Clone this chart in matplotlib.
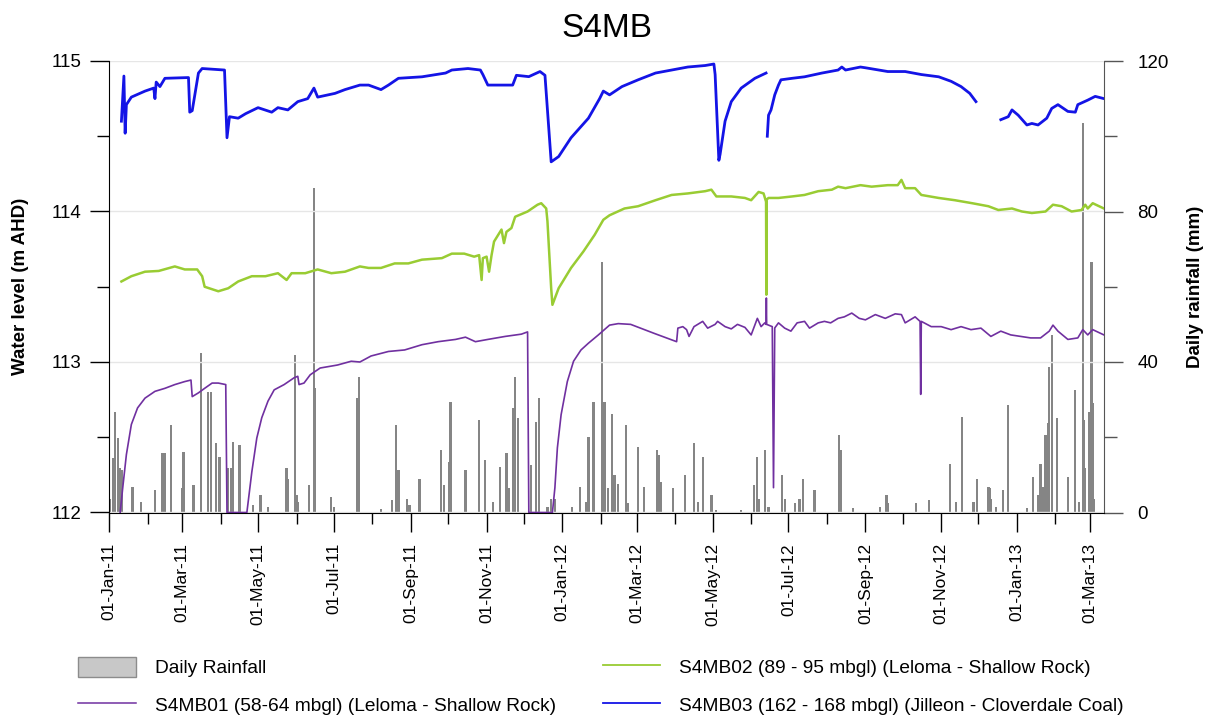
import matplotlib
matplotlib.use("Agg")
import matplotlib.pyplot as plt
import matplotlib.dates as mdates
from matplotlib.ticker import MultipleLocator, FixedLocator
from matplotlib.patches import Patch
from matplotlib.lines import Line2D
import numpy as np
import pandas as pd

plt.rcParams['font.family'] = ['Liberation Sans', 'DejaVu Sans']

# S4MB03 (162 - 168 mbgl), nan marks logger gaps
s4mb03_dates = [
    "2011-01-11", "2011-01-13", "2011-01-14", "2011-01-15", "2011-01-19", "2011-01-30",
    "2011-02-06", "2011-02-07", "2011-02-08", "2011-02-11", "2011-02-15", "2011-03-06",
    "2011-03-07", "2011-03-09", "2011-03-14", "2011-03-17", "2011-04-04", "2011-04-06",
    "2011-04-08", "2011-04-15", "2011-04-21", "2011-05-01", "2011-05-12", "2011-05-17",
    "2011-05-25", "2011-06-02", "2011-06-10", "2011-06-15", "2011-06-18", "2011-07-02",
    "2011-07-10", "2011-07-22", "2011-07-29", "2011-08-08", "2011-08-14", "2011-08-22",
    "2011-09-10", "2011-09-29", "2011-10-04", "2011-10-17", "2011-10-27", "2011-10-29",
    "2011-11-02", "2011-11-16", "2011-11-22", "2011-11-25", "2011-12-05", "2011-12-14",
    "2011-12-18", "2011-12-23", "2011-12-29", "2012-01-08", "2012-01-22", "2012-01-31",
    "2012-02-03", "2012-02-08", "2012-02-18", "2012-03-02", "2012-03-16", "2012-03-29",
    "2012-04-11", "2012-04-25", "2012-05-02", "2012-05-03", "2012-05-06", "2012-05-07",
    "2012-05-11", "2012-05-16", "2012-05-24", "2012-06-04", "2012-06-13", "2012-06-13 12:00",
    "2012-06-14", "2012-06-15", "2012-06-17", "2012-06-20", "2012-06-23", "2012-06-25",
    "2012-07-04", "2012-07-14", "2012-07-28", "2012-08-10", "2012-08-13", "2012-08-16",
    "2012-08-28", "2012-09-01", "2012-09-19", "2012-10-03", "2012-10-16", "2012-10-30",
    "2012-11-09", "2012-11-17", "2012-11-24", "2012-11-29", "2012-12-09", "2012-12-19",
    "2012-12-25", "2012-12-28", "2013-01-02", "2013-01-09", "2013-01-13", "2013-01-18",
    "2013-01-25", "2013-01-29", "2013-02-03", "2013-02-11", "2013-02-17", "2013-02-19",
    "2013-02-27", "2013-03-05", "2013-03-12",
]
s4mb03_level = [
    114.60, 114.90, 114.52, 114.71, 114.76, 114.80,
    114.82, 114.75, 114.86, 114.83, 114.885, 114.89,
    114.66, 114.67, 114.92, 114.95, 114.94, 114.49,
    114.63, 114.62, 114.65, 114.69, 114.66, 114.69,
    114.675, 114.73, 114.75, 114.82, 114.76, 114.785,
    114.81, 114.84, 114.84, 114.81, 114.84, 114.885,
    114.895, 114.92, 114.94, 114.95, 114.94, 114.91,
    114.84, 114.84, 114.84, 114.905, 114.896, 114.93,
    114.905, 114.33, 114.365, 114.49, 114.62, 114.75,
    114.80, 114.775, 114.83, 114.875, 114.92, 114.94,
    114.96, 114.97, 114.98, 114.91, 114.34, 114.38,
    114.60, 114.73, 114.82, 114.885, 114.92, np.nan,
    114.50, 114.64, 114.675, 114.775, 114.84, 114.875,
    114.885, 114.895, 114.92, 114.94, 114.96, 114.94,
    114.96, 114.955, 114.93, 114.93, 114.91, 114.895,
    114.865, 114.83, 114.785, 114.73, np.nan, 114.61,
    114.63, 114.675, 114.64, 114.575, 114.585, 114.575,
    114.62, 114.685, 114.71, 114.665, 114.66, 114.71,
    114.74, 114.765, 114.75,
]

# S4MB02 (89 - 95 mbgl)
s4mb02_dates = [
    "2011-01-11", "2011-01-19", "2011-01-30", "2011-02-10", "2011-02-23", "2011-03-03",
    "2011-03-13", "2011-03-17", "2011-03-19", "2011-03-30", "2011-04-07", "2011-04-15",
    "2011-04-26", "2011-05-07", "2011-05-17", "2011-05-24", "2011-05-28", "2011-06-08",
    "2011-06-18", "2011-06-29", "2011-07-10", "2011-07-22", "2011-07-29", "2011-08-08",
    "2011-08-19", "2011-08-30", "2011-09-10", "2011-09-26", "2011-10-04", "2011-10-14",
    "2011-10-22", "2011-10-26", "2011-10-28", "2011-10-29", "2011-11-01", "2011-11-03",
    "2011-11-05", "2011-11-07", "2011-11-13", "2011-11-15", "2011-11-17", "2011-11-21",
    "2011-11-24", "2011-12-04", "2011-12-12", "2011-12-15", "2011-12-19", "2011-12-20",
    "2011-12-23", "2011-12-24", "2011-12-29", "2012-01-08", "2012-01-18", "2012-01-27",
    "2012-02-03", "2012-02-08", "2012-02-12", "2012-02-20", "2012-03-02", "2012-03-16",
    "2012-03-29", "2012-04-11", "2012-04-25", "2012-04-30", "2012-05-04", "2012-05-16",
    "2012-05-27", "2012-06-01", "2012-06-07", "2012-06-11", "2012-06-13", "2012-06-13 06:00",
    "2012-06-13 12:00", "2012-06-15", "2012-06-23", "2012-07-04", "2012-07-14", "2012-07-25",
    "2012-08-05", "2012-08-10", "2012-08-16", "2012-08-28", "2012-09-06", "2012-09-19",
    "2012-09-27", "2012-09-30", "2012-10-03", "2012-10-11", "2012-10-16", "2012-10-30",
    "2012-11-12", "2012-11-26", "2012-12-09", "2012-12-17", "2012-12-28", "2013-01-05",
    "2013-01-13", "2013-01-24", "2013-01-30", "2013-02-06", "2013-02-14", "2013-02-22",
    "2013-02-25", "2013-02-27", "2013-03-03", "2013-03-12",
]
s4mb02_level = [
    113.535, 113.57, 113.60, 113.605, 113.635, 113.615,
    113.615, 113.57, 113.50, 113.47, 113.49, 113.535,
    113.57, 113.57, 113.59, 113.545, 113.59, 113.59,
    113.615, 113.59, 113.60, 113.635, 113.625, 113.625,
    113.655, 113.655, 113.68, 113.69, 113.72, 113.72,
    113.70, 113.71, 113.545, 113.69, 113.70, 113.60,
    113.71, 113.80, 113.88, 113.79, 113.865, 113.89,
    113.965, 114.00, 114.045, 114.055, 114.02, 113.935,
    113.49, 113.38, 113.49, 113.625, 113.735, 113.845,
    113.945, 113.975, 113.99, 114.02, 114.035, 114.075,
    114.11, 114.12, 114.135, 114.145, 114.10, 114.10,
    114.09, 114.075, 114.13, 114.12, 114.065, 113.447,
    114.08, 114.09, 114.09, 114.10, 114.11, 114.135,
    114.145, 114.165, 114.155, 114.175, 114.165, 114.175,
    114.175, 114.21, 114.155, 114.155, 114.11, 114.09,
    114.075, 114.055, 114.035, 114.01, 114.02, 114.00,
    113.99, 114.00, 114.045, 114.035, 114.00, 114.01,
    114.045, 114.02, 114.055, 114.02,
]

# S4MB01 (58-64 mbgl)
s4mb01_dates = [
    "2011-01-10", "2011-01-12", "2011-01-15", "2011-01-19", "2011-01-24", "2011-01-30",
    "2011-02-07", "2011-02-15", "2011-02-23", "2011-03-03", "2011-03-08", "2011-03-09",
    "2011-03-14", "2011-03-19", "2011-03-25", "2011-03-30", "2011-04-05", "2011-04-06",
    "2011-04-22", "2011-04-26", "2011-04-30", "2011-05-04", "2011-05-09", "2011-05-14",
    "2011-05-22", "2011-05-30", "2011-06-02", "2011-06-03", "2011-06-07", "2011-06-12",
    "2011-06-20", "2011-07-04", "2011-07-15", "2011-07-22", "2011-07-31", "2011-08-14",
    "2011-08-27", "2011-09-10", "2011-09-23", "2011-10-07", "2011-10-15", "2011-10-23",
    "2011-11-02", "2011-11-16", "2011-11-29", "2011-12-04", "2011-12-05", "2011-12-24",
    "2011-12-26", "2011-12-28", "2011-12-31", "2012-01-05", "2012-01-10", "2012-01-16",
    "2012-01-22", "2012-01-30", "2012-02-08", "2012-02-15", "2012-02-25", "2012-03-15",
    "2012-04-02", "2012-04-03", "2012-04-07", "2012-04-10", "2012-04-12", "2012-04-16",
    "2012-04-23", "2012-04-27", "2012-05-03", "2012-05-05", "2012-05-11", "2012-05-16",
    "2012-05-21", "2012-05-27", "2012-06-01", "2012-06-06", "2012-06-09", "2012-06-12",
    "2012-06-13", "2012-06-13 06:00", "2012-06-13 12:00", "2012-06-18", "2012-06-19", "2012-06-20",
    "2012-06-23", "2012-06-28", "2012-07-03", "2012-07-08", "2012-07-14", "2012-07-18",
    "2012-07-25", "2012-07-30", "2012-08-04", "2012-08-10", "2012-08-15", "2012-08-21",
    "2012-08-27", "2012-09-01", "2012-09-09", "2012-09-17", "2012-09-25", "2012-09-30",
    "2012-10-03", "2012-10-11", "2012-10-15", "2012-10-15 12:00", "2012-10-16", "2012-10-24",
    "2012-11-01", "2012-11-09", "2012-11-17", "2012-11-25", "2012-12-03", "2012-12-11",
    "2012-12-19", "2012-12-27", "2013-01-04", "2013-01-12", "2013-01-20", "2013-01-27",
    "2013-01-30", "2013-02-03", "2013-02-11", "2013-02-19", "2013-02-23", "2013-02-27",
    "2013-03-03", "2013-03-12",
]
s4mb01_level = [
    112.0, 112.16, 112.385, 112.585, 112.695, 112.76,
    112.805, 112.825, 112.85, 112.87, 112.88, 112.77,
    112.795, 112.825, 112.86, 112.86, 112.85, 112.0,
    112.0, 112.27, 112.495, 112.63, 112.74, 112.815,
    112.85, 112.895, 112.905, 112.85, 112.86, 112.915,
    112.96, 112.98, 113.005, 113.0, 113.04, 113.07,
    113.08, 113.115, 113.135, 113.15, 113.165, 113.135,
    113.15, 113.17, 113.185, 113.20, 112.0, 112.0,
    112.165, 112.43, 112.65, 112.87, 113.005, 113.08,
    113.125, 113.18, 113.245, 113.255, 113.25, 113.19,
    113.135, 113.225, 113.235, 113.215, 113.17, 113.235,
    113.27, 113.225, 113.25, 113.27, 113.235, 113.22,
    113.25, 113.23, 113.18, 113.29, 113.235, 113.26,
    113.25, 113.425, 113.25, 113.235, 112.165, 113.226,
    113.26, 113.225, 113.205, 113.26, 113.27, 113.225,
    113.26, 113.27, 113.26, 113.29, 113.30, 113.325,
    113.29, 113.28, 113.315, 113.29, 113.32, 113.315,
    113.26, 113.30, 113.27, 112.785, 113.27, 113.235,
    113.235, 113.215, 113.235, 113.215, 113.225, 113.17,
    113.205, 113.18, 113.17, 113.16, 113.16, 113.205,
    113.245, 113.205, 113.15, 113.16, 113.215, 113.18,
    113.215, 113.18,
]

# daily rainfall (mm)
rain_dates = [
    "2011-01-02", "2011-01-04", "2011-01-06", "2011-01-08", "2011-01-10", "2011-01-11",
    "2011-01-20", "2011-01-27", "2011-02-07", "2011-02-13", "2011-02-15", "2011-02-20",
    "2011-03-01", "2011-03-02", "2011-03-10", "2011-03-16", "2011-03-22", "2011-03-24",
    "2011-03-28", "2011-03-31", "2011-04-07", "2011-04-09", "2011-04-11", "2011-04-16",
    "2011-04-27", "2011-05-03", "2011-05-09", "2011-05-24", "2011-05-25", "2011-05-31",
    "2011-06-01", "2011-06-02", "2011-06-11", "2011-06-15", "2011-06-16", "2011-06-29",
    "2011-07-01", "2011-07-20", "2011-07-21", "2011-08-08", "2011-08-17", "2011-08-20",
    "2011-08-22", "2011-08-29", "2011-08-31", "2011-09-08", "2011-09-25", "2011-09-28",
    "2011-10-02", "2011-10-03", "2011-10-15", "2011-10-26", "2011-10-31", "2011-11-06",
    "2011-11-12", "2011-11-17", "2011-11-19", "2011-11-22", "2011-11-24", "2011-11-26",
    "2011-12-07", "2011-12-11", "2011-12-13", "2011-12-20", "2011-12-23", "2011-12-26",
    "2012-01-09", "2012-01-15", "2012-01-20", "2012-01-22", "2012-01-26", "2012-02-02",
    "2012-02-04", "2012-02-07", "2012-02-10", "2012-02-12", "2012-02-15", "2012-02-21",
    "2012-02-23", "2012-03-02", "2012-03-07", "2012-03-17", "2012-03-19", "2012-03-20",
    "2012-03-30", "2012-04-09", "2012-04-16", "2012-04-19", "2012-04-23", "2012-04-30",
    "2012-05-04", "2012-05-24", "2012-06-03", "2012-06-06", "2012-06-07", "2012-06-12",
    "2012-06-15", "2012-06-26", "2012-06-28", "2012-07-06", "2012-07-10", "2012-07-13",
    "2012-07-22", "2012-08-11", "2012-08-12", "2012-08-22", "2012-09-13", "2012-09-18",
    "2012-09-19", "2012-10-12", "2012-10-22", "2012-11-08", "2012-11-13", "2012-11-18",
    "2012-11-27", "2012-11-30", "2012-12-09", "2012-12-10", "2012-12-11", "2012-12-15",
    "2012-12-21", "2012-12-25", "2013-01-09", "2013-01-14", "2013-01-18", "2013-01-20",
    "2013-01-22", "2013-01-24", "2013-01-26", "2013-01-27", "2013-01-29", "2013-02-02",
    "2013-02-11", "2013-02-17", "2013-02-20", "2013-02-23", "2013-02-24", "2013-02-25",
    "2013-02-28", "2013-03-02", "2013-03-03", "2013-03-04",
]
rain_mm = [
    3.7, 14.4, 26.8, 19.7, 11.7, 11.3,
    6.8, 2.8, 5.9, 15.7, 15.7, 23.2,
    6.4, 16.1, 7.3, 42.3, 32.1, 32.1,
    18.4, 14.8, 11.7, 11.7, 18.8, 17.9,
    2.0, 4.6, 1.5, 11.7, 9.0, 41.8,
    4.6, 2.8, 7.3, 86.2, 33.0, 4.2,
    1.5, 30.3, 36.1, 0.9, 3.3, 23.2,
    11.3, 3.7, 2.0, 9.0, 16.6, 7.3,
    13.5, 29.4, 11.3, 24.6, 13.9, 2.8,
    12.1, 15.7, 6.4, 27.7, 36.1, 25.0,
    12.6, 24.1, 30.3, 1.5, 3.7, 3.7,
    1.5, 6.8, 2.8, 20.1, 29.4, 66.7,
    29.4, 6.4, 26.3, 9.9, 7.7, 23.2,
    2.4, 17.5, 6.8, 16.6, 15.2, 8.2,
    6.4, 9.9, 18.4, 2.8, 14.8, 4.6,
    0.6, 0.6, 7.3, 14.8, 3.7, 16.6,
    1.5, 9.9, 3.7, 2.4, 3.7, 9.0,
    5.9, 20.6, 16.6, 1.1, 1.5, 4.6,
    2.4, 2.4, 3.3, 13.0, 2.8, 25.4,
    2.8, 9.0, 6.8, 6.4, 3.7, 1.5,
    5.9, 28.5, 1.1, 9.5, 4.6, 13.0,
    6.8, 20.6, 23.7, 38.7, 47.2, 25.0,
    9.5, 32.5, 2.8, 103.5, 24.6, 11.7,
    26.8, 66.7, 29.0, 3.7,
]

purple = '#7030a0'
green = '#99cc33'
blue = '#1414e6'
rain_colour = '#858585'


def to_dates(values):
    return pd.to_datetime(values, format='ISO8601')


fig = plt.figure(figsize=(12.13, 7.15), dpi=100)
ax = fig.add_axes([109 / 1213, 1 - 512.5 / 715, 995 / 1213, 451.5 / 715])
ax2 = ax.twinx()

# rainfall on the secondary axis, water levels drawn above it
ax2.bar(to_dates(rain_dates), rain_mm, width=1.8, color=rain_colour, linewidth=0)
ax.set_zorder(ax2.get_zorder() + 1)
ax.patch.set_visible(False)

ax.plot(to_dates(s4mb01_dates), s4mb01_level, color=purple, lw=1.2)
ax.plot(to_dates(s4mb02_dates), s4mb02_level, color=green, lw=1.8)
ax.plot(to_dates(s4mb03_dates), s4mb03_level, color=blue, lw=2.0)

ax.set_xlim(pd.Timestamp('2011-01-01'), pd.Timestamp('2013-03-12 02:00'))
ax.set_ylim(112, 115)
ax2.set_ylim(0, 120)

ax.yaxis.set_major_locator(FixedLocator([112, 113, 114, 115]))
ax.yaxis.set_minor_locator(MultipleLocator(0.5))
ax2.yaxis.set_major_locator(FixedLocator([0, 40, 80, 120]))
ax2.yaxis.set_minor_locator(MultipleLocator(20))

ax.xaxis.set_major_locator(mdates.MonthLocator(bymonth=[1, 3, 5, 7, 9, 11]))
ax.xaxis.set_minor_locator(mdates.MonthLocator(bymonth=[2, 4, 6, 8, 10, 12]))
ax.xaxis.set_major_formatter(mdates.DateFormatter('%d-%b-%y'))

ax.tick_params(axis='x', which='major', direction='out', length=14, width=1,
               labelsize=12.5, pad=8, labelrotation=90)
ax.tick_params(axis='x', which='minor', direction='out', length=8, width=1)
ax.tick_params(axis='y', which='major', direction='out', length=14, width=1,
               labelsize=13.5, pad=6)
ax.tick_params(axis='y', which='minor', direction='out', length=9, width=1)
ax2.tick_params(axis='y', which='major', direction='out', length=14, width=1,
                labelsize=13.5, pad=10, color='#555555')
ax2.tick_params(axis='y', which='minor', direction='out', length=9, width=1, color='#555555')

ax.grid(axis='y', which='major', color='#e6e6e6', lw=1)

for side in ('top', 'right'):
    ax.spines[side].set_visible(False)
for side in ('top', 'left', 'bottom'):
    ax2.spines[side].set_visible(False)
ax2.spines['right'].set_color('#555555')

ax.set_title('S4MB', fontsize=24, pad=17)
ax.set_ylabel('Water level (m AHD)', fontsize=13.5, fontweight='bold')
ax.yaxis.set_label_coords(-0.08, 0.5)
ax2.set_ylabel('Daily rainfall (mm)', fontsize=13.5, fontweight='bold')
ax2.yaxis.set_label_coords(1.083, 0.5)

handles = [
    Patch(facecolor='#c8c8c8', edgecolor='#8c8c8c', label='Daily Rainfall'),
    Line2D([], [], color=purple, lw=1.1, label='S4MB01 (58-64 mbgl) (Leloma - Shallow Rock)'),
    Line2D([], [], color=green, lw=1.3, label='S4MB02 (89 - 95 mbgl) (Leloma - Shallow Rock)'),
    Line2D([], [], color=blue, lw=1.3, label='S4MB03 (162 - 168 mbgl) (Jilleon - Cloverdale Coal)'),
]
fig.legend(handles=handles, ncol=2, loc='upper left', bbox_to_anchor=(78 / 1213, 1 - 657 / 715),
           frameon=False, fontsize=13.8, handlelength=3.0, handleheight=1.2,
           handletextpad=1.0, columnspacing=2.45, labelspacing=0.9,
           borderpad=0, borderaxespad=0)

fig.savefig('out.png', dpi=100)
